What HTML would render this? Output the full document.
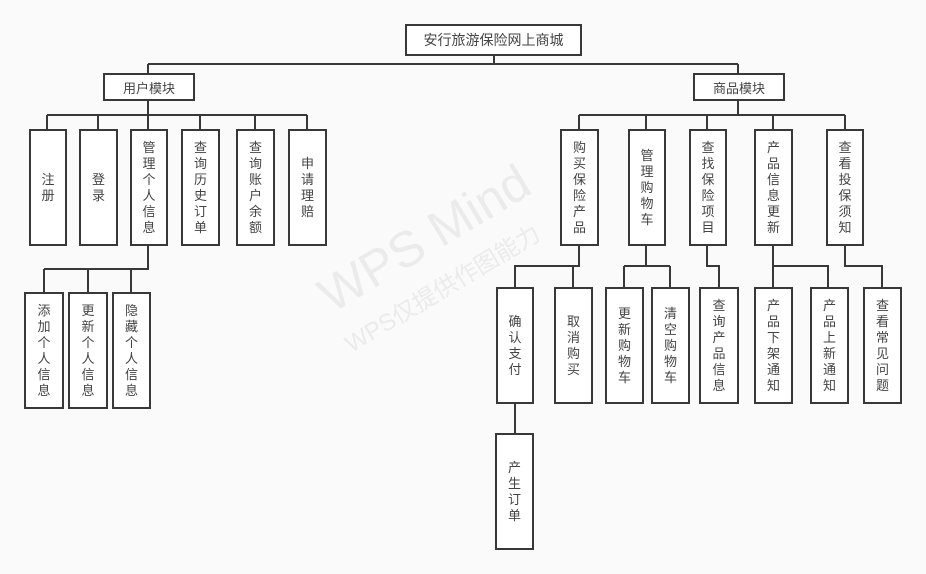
<!DOCTYPE html>
<html><head><meta charset="utf-8"><style>
html,body{margin:0;padding:0;}
body{width:926px;height:574px;background:#fafafa;position:relative;overflow:hidden;font-family:"Liberation Sans","Noto Sans CJK SC",sans-serif;color:#444;}
.b{position:absolute;box-sizing:border-box;border:2px solid #383838;background:#fff;display:flex;align-items:center;justify-content:center;font-size:13px;}
.v{flex-direction:column;line-height:16px;}
.v span{display:block;}
.wm{position:absolute;color:#ebebeb;white-space:nowrap;transform-origin:left bottom;transform:rotate(-31deg);}
svg{position:absolute;left:0;top:0;}
</style></head><body>
<div class="wm" style="left:338px;top:266px;font-size:50px;">WPS Mind</div>
<div class="wm" style="left:355px;top:324px;font-size:24px;">WPS仅提供作图能力</div>
<svg width="926" height="574"><g stroke="#383838" stroke-width="2" fill="none">
<path d="M494 55V64M148 64H738M148 64V73M738 64V73"/>
<path d="M148 100V115M47 115H307M47 115V129M98 115V129M148 115V129M200 115V129M255 115V129M307 115V129"/>
<path d="M148 245V269H44M44 269V292M88 269V292M131 269V292"/>
<path d="M738 100V115M579 115H845M579 115V129M646 115V129M707 115V129M773 115V129M845 115V129"/>
<path d="M579 245V266H515V287M573 266V287"/>
<path d="M646 245V266M624 266H670M624 266V287M670 266V287"/>
<path d="M707 245V266H719V287"/>
<path d="M773 245V287M773 266H828V287"/>
<path d="M845 245V266H882V287"/>
<path d="M515 403V434"/>
</g></svg>
<div class="b" style="left:405px;top:24px;width:177px;height:32px;font-size:14px;">安行旅游保险网上商城</div>
<div class="b" style="left:103px;top:73px;width:92px;height:28px;">用户模块</div>
<div class="b" style="left:693px;top:73px;width:92px;height:28px;">商品模块</div>

<div class="b v" style="left:29px;top:129px;width:38px;height:117px;"><span>注</span><span>册</span></div>
<div class="b v" style="left:79px;top:129px;width:39px;height:117px;"><span>登</span><span>录</span></div>
<div class="b v" style="left:130px;top:129px;width:38px;height:117px;"><span>管</span><span>理</span><span>个</span><span>人</span><span>信</span><span>息</span></div>
<div class="b v" style="left:181px;top:129px;width:39px;height:117px;"><span>查</span><span>询</span><span>历</span><span>史</span><span>订</span><span>单</span></div>
<div class="b v" style="left:236px;top:129px;width:39px;height:117px;"><span>查</span><span>询</span><span>账</span><span>户</span><span>余</span><span>额</span></div>
<div class="b v" style="left:288px;top:129px;width:39px;height:117px;"><span>申</span><span>请</span><span>理</span><span>赔</span></div>

<div class="b v" style="left:24px;top:292px;width:40px;height:117px;"><span>添</span><span>加</span><span>个</span><span>人</span><span>信</span><span>息</span></div>
<div class="b v" style="left:68px;top:292px;width:40px;height:117px;"><span>更</span><span>新</span><span>个</span><span>人</span><span>信</span><span>息</span></div>
<div class="b v" style="left:112px;top:292px;width:39px;height:117px;"><span>隐</span><span>藏</span><span>个</span><span>人</span><span>信</span><span>息</span></div>

<div class="b v" style="left:560px;top:129px;width:39px;height:117px;"><span>购</span><span>买</span><span>保</span><span>险</span><span>产</span><span>品</span></div>
<div class="b v" style="left:628px;top:129px;width:38px;height:117px;"><span>管</span><span>理</span><span>购</span><span>物</span><span>车</span></div>
<div class="b v" style="left:689px;top:129px;width:38px;height:117px;"><span>查</span><span>找</span><span>保</span><span>险</span><span>项</span><span>目</span></div>
<div class="b v" style="left:754px;top:129px;width:39px;height:117px;"><span>产</span><span>品</span><span>信</span><span>息</span><span>更</span><span>新</span></div>
<div class="b v" style="left:826px;top:129px;width:38px;height:117px;"><span>查</span><span>看</span><span>投</span><span>保</span><span>须</span><span>知</span></div>

<div class="b v" style="left:496px;top:287px;width:38px;height:117px;"><span>确</span><span>认</span><span>支</span><span>付</span></div>
<div class="b v" style="left:554px;top:287px;width:39px;height:117px;"><span>取</span><span>消</span><span>购</span><span>买</span></div>
<div class="b v" style="left:605px;top:287px;width:39px;height:117px;"><span>更</span><span>新</span><span>购</span><span>物</span><span>车</span></div>
<div class="b v" style="left:651px;top:287px;width:39px;height:117px;"><span>清</span><span>空</span><span>购</span><span>物</span><span>车</span></div>
<div class="b v" style="left:699px;top:287px;width:40px;height:117px;"><span>查</span><span>询</span><span>产</span><span>品</span><span>信</span><span>息</span></div>
<div class="b v" style="left:754px;top:287px;width:39px;height:117px;"><span>产</span><span>品</span><span>下</span><span>架</span><span>通</span><span>知</span></div>
<div class="b v" style="left:810px;top:287px;width:39px;height:117px;"><span>产</span><span>品</span><span>上</span><span>新</span><span>通</span><span>知</span></div>
<div class="b v" style="left:863px;top:287px;width:39px;height:117px;"><span>查</span><span>看</span><span>常</span><span>见</span><span>问</span><span>题</span></div>

<div class="b v" style="left:495px;top:433px;width:39px;height:117px;"><span>产</span><span>生</span><span>订</span><span>单</span></div>
</body></html>
